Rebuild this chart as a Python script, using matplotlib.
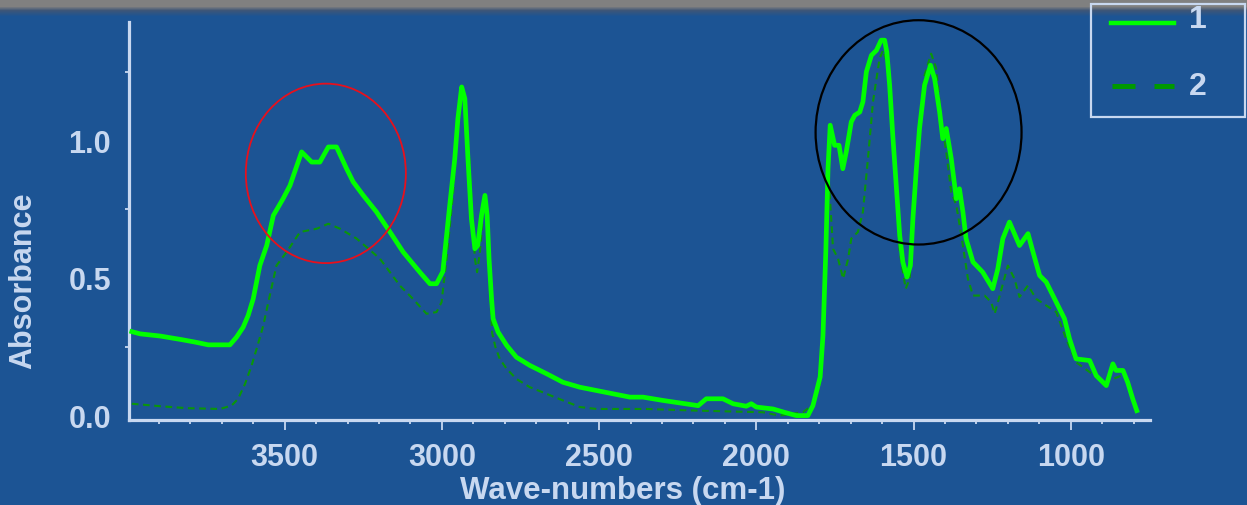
import numpy as np
import matplotlib
matplotlib.use("Agg")
import matplotlib.pyplot as plt
from matplotlib.patches import Ellipse, Rectangle
from matplotlib.lines import Line2D
from matplotlib.ticker import FixedLocator

plt.rcParams['font.family'] = ['Liberation Sans', 'DejaVu Sans']

# Spectrum 1 (wavenumber in cm-1, absorbance)
wn1 = [3986, 3960, 3896, 3828, 3785, 3743, 3674, 3653, 3632, 3616, 3600, 3579,
       3557, 3536, 3505, 3483, 3446, 3414, 3388, 3361, 3335, 3303, 3282, 3250,
       3208, 3165, 3123, 3070, 3038, 3017, 2997, 2975, 2959, 2949, 2937, 2927,
       2917, 2906, 2895, 2886, 2874, 2863, 2856, 2850, 2842, 2837, 2821, 2794,
       2763, 2720, 2667, 2615, 2561, 2508, 2456, 2402, 2360, 2297, 2244, 2185,
       2159, 2106, 2074, 2032, 2016, 2000, 1947, 1905, 1873, 1836, 1820, 1804,
       1797, 1788, 1779, 1772, 1765, 1751, 1737, 1725, 1714, 1698, 1687, 1671,
       1661, 1650, 1634, 1618, 1603, 1592, 1585, 1576, 1566, 1555, 1544, 1534,
       1521, 1510, 1502, 1491, 1481, 1465, 1446, 1433, 1417, 1407, 1396, 1380,
       1364, 1354, 1343, 1333, 1311, 1280, 1248, 1232, 1216, 1195, 1163, 1136,
       1120, 1099, 1078, 1046, 1020, 1004, 983, 940, 919, 887, 866, 856, 834,
       819, 803, 790]
abs1 = [0.305, 0.297, 0.289, 0.276, 0.267, 0.257, 0.257, 0.285, 0.321, 0.364,
        0.424, 0.545, 0.618, 0.727, 0.788, 0.836, 0.958, 0.921, 0.921, 0.976,
        0.976, 0.897, 0.849, 0.800, 0.740, 0.667, 0.594, 0.521, 0.479, 0.479,
        0.523, 0.764, 0.933, 1.079, 1.194, 1.152, 0.933, 0.715, 0.606, 0.618,
        0.727, 0.800, 0.727, 0.570, 0.424, 0.352, 0.303, 0.255, 0.212, 0.182,
        0.152, 0.121, 0.103, 0.091, 0.079, 0.067, 0.067, 0.055, 0.046, 0.036,
        0.061, 0.061, 0.043, 0.034, 0.043, 0.031, 0.024, 0.010, 0.000, 0.000,
        0.036, 0.109, 0.140, 0.291, 0.595, 0.897, 1.055, 0.982, 0.982, 0.897,
        0.958, 1.067, 1.091, 1.103, 1.140, 1.249, 1.309, 1.327, 1.364, 1.364,
        1.321, 1.200, 1.018, 0.836, 0.655, 0.558, 0.503, 0.545, 0.715, 0.897,
        1.043, 1.200, 1.273, 1.224, 1.103, 1.006, 1.043, 0.933, 0.788, 0.824,
        0.740, 0.643, 0.558, 0.521, 0.461, 0.533, 0.643, 0.703, 0.618, 0.661,
        0.594, 0.509, 0.485, 0.412, 0.352, 0.279, 0.206, 0.200, 0.145, 0.109,
        0.188, 0.164, 0.164, 0.121, 0.061, 0.018]

# Spectrum 2
wn2 = [3986, 3896, 3812, 3706, 3669, 3648, 3626, 3605, 3589, 3568, 3552, 3526,
       3494, 3451, 3398, 3361, 3324, 3271, 3197, 3134, 3092, 3049, 3017, 3001,
       2985, 2964, 2948, 2937, 2927, 2916, 2906, 2895, 2888, 2879, 2868, 2860,
       2853, 2847, 2840, 2830, 2816, 2794, 2763, 2720, 2667, 2615, 2561, 2508,
       2349, 2190, 1979, 1926, 1852, 1831, 1815, 1798, 1788, 1777, 1769, 1756,
       1740, 1724, 1708, 1698, 1677, 1661, 1645, 1629, 1608, 1597, 1585, 1574,
       1560, 1544, 1525, 1512, 1502, 1486, 1465, 1444, 1428, 1412, 1396, 1380,
       1364, 1348, 1327, 1311, 1274, 1253, 1242, 1226, 1200, 1179, 1163, 1136,
       1110, 1078, 1046, 1015, 983, 940, 898, 866, 839, 818, 802, 791]
abs2 = [0.043, 0.034, 0.027, 0.024, 0.036, 0.061, 0.115, 0.182, 0.243, 0.327,
        0.412, 0.545, 0.594, 0.667, 0.679, 0.697, 0.679, 0.643, 0.570, 0.473,
        0.424, 0.370, 0.376, 0.412, 0.570, 0.812, 1.055, 1.176, 1.164, 0.994,
        0.788, 0.570, 0.521, 0.594, 0.740, 0.776, 0.631, 0.449, 0.300, 0.250,
        0.206, 0.170, 0.133, 0.103, 0.079, 0.055, 0.031, 0.024, 0.024, 0.018,
        0.012, 0.000, 0.012, 0.030, 0.050, 0.109, 0.352, 0.715, 0.849, 0.606,
        0.570, 0.497, 0.570, 0.643, 0.667, 0.740, 0.933, 1.140, 1.297, 1.327,
        1.285, 1.140, 0.897, 0.594, 0.461, 0.497, 0.776, 1.018, 1.236, 1.315,
        1.261, 1.079, 0.958, 0.812, 0.764, 0.655, 0.497, 0.436, 0.436, 0.412,
        0.370, 0.436, 0.545, 0.497, 0.431, 0.473, 0.424, 0.400, 0.376, 0.279,
        0.194, 0.158, 0.121, 0.133, 0.145, 0.133, 0.073, 0.024]

series_labels = ['1', '2']
x_ticks = [3500, 3000, 2500, 2000, 1500, 1000]
y_ticks = [0.0, 0.5, 1.0]
y_tick_labels = ['0.0', '0.5', '1.0']

BG = '#1c5494'
FG = '#c8d8f0'
W, H = 1247, 506

fig = plt.figure(figsize=(W / 100, H / 100), dpi=100, facecolor=BG)

# Window-like top strip: gray band fading into the blue background
bg = fig.add_axes([0, 0, 1, 1], zorder=-5)
bg.set_axis_off()
gray = np.array([128, 128, 128]) / 255
dark = np.array([62, 86, 120]) / 255
blue = np.array([28, 84, 148]) / 255
img = np.empty((H, 1, 3))
for r in range(H):
    if r < 7:
        c = gray
    elif r < 11:
        t = (r - 7) / 4
        c = gray * (1 - t) + dark * t
    elif r < 17:
        t = (r - 11) / 6
        c = dark * (1 - t) + blue * t
    else:
        c = blue
    img[r, 0] = c
bg.imshow(img, aspect='auto', extent=(0, 1, 0, 1), interpolation='nearest')
bg.set_xlim(0, 1)
bg.set_ylim(0, 1)

ax = fig.add_axes([129 / W, (H - 420.7) / H, (1150 - 129) / W, (420.7 - 23) / H])
ax.set_facecolor('none')

l1, = ax.plot(wn1, abs1, color='#00ff00', lw=3.4, zorder=4)
l2, = ax.plot(wn2, abs2, color='#0a960a', lw=1.5, dashes=(3.2, 2.2), zorder=3)

ax.set_xlim(3995, 748)
ax.set_ylim(-0.015, 1.43)

for s in ['top', 'right']:
    ax.spines[s].set_visible(False)
for s in ['left', 'bottom']:
    ax.spines[s].set_color(FG)
    ax.spines[s].set_linewidth(2.3)

ax.set_xticks(x_ticks)
ax.set_xticklabels([str(v) for v in x_ticks])
ax.xaxis.set_minor_locator(FixedLocator(np.arange(3900, 750, -100)))
ax.set_yticks(y_ticks)
ax.set_yticklabels(y_tick_labels)
ax.yaxis.set_minor_locator(FixedLocator([0.25, 0.75, 1.25]))

ax.tick_params(axis='x', which='major', length=7, width=1.3, color=FG, pad=9,
               labelsize=22, labelcolor=FG, direction='out')
ax.tick_params(axis='x', which='minor', length=3, width=1.3, color=FG, direction='out')
ax.tick_params(axis='y', which='major', length=0, pad=13, labelsize=22, labelcolor=FG)
ax.tick_params(axis='y', which='minor', length=3, width=1.3, color=FG, direction='out')
for t in ax.get_xticklabels() + ax.get_yticklabels():
    t.set_fontweight('bold')

ax.set_xlabel('Wave-numbers (cm-1)', fontsize=22.5, fontweight='bold', color=FG)
ax.xaxis.set_label_coords(0.484, -0.140)
ax.xaxis.label.set_va('top')
ax.set_ylabel('Absorbance', fontsize=22, fontweight='bold', color=FG)
ax.yaxis.set_label_coords(-0.089, 0.351)

# Highlight circles around the O-H and fingerprint regions
ax.add_patch(Ellipse((3369, 0.880), 509, 0.652, fill=False, edgecolor='#e8101c',
                     lw=1.3, clip_on=False, zorder=5))
ax.add_patch(Ellipse((1484, 1.029), 655, 0.815, fill=False, edgecolor='black',
                     lw=1.6, clip_on=False, zorder=5))

# Legend box in the top right corner
def fx(px):
    return px / W

def fy(py):
    return 1 - py / H

fig.add_artist(Rectangle((fx(1091), fy(118)), fx(1245) - fx(1091), fy(5) - fy(118),
                         transform=fig.transFigure, fill=False, edgecolor=FG, lw=1.6,
                         zorder=6))
fig.add_artist(Line2D([fx(1111), fx(1174)], [fy(24), fy(24)], transform=fig.transFigure,
                      color=l1.get_color(), lw=3.2, zorder=7))
fig.add_artist(Line2D([fx(1112), fx(1174)], [fy(87), fy(87)], transform=fig.transFigure,
                      color='#009900', lw=3.6, dashes=(4.6, 3.8), zorder=7))
fig.text(fx(1198), fy(20), series_labels[0], fontsize=23, fontweight='bold', color=FG,
         ha='center', va='center', zorder=7)
fig.text(fx(1198), fy(87), series_labels[1], fontsize=23, fontweight='bold', color=FG,
         ha='center', va='center', zorder=7)

fig.savefig('out.png', dpi=100, facecolor=BG)
